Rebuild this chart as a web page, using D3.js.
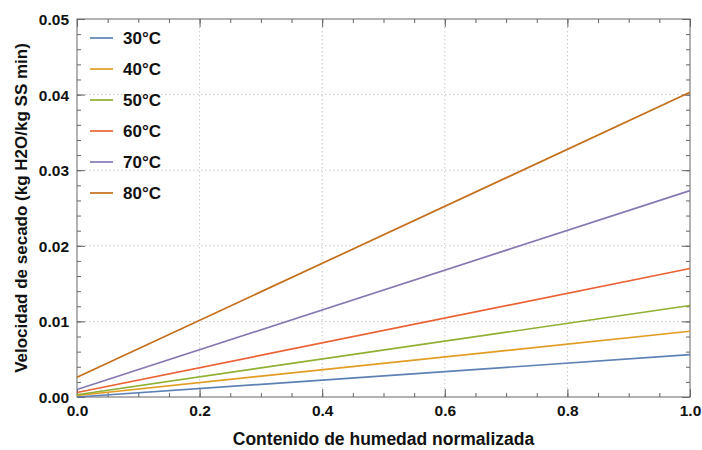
<!DOCTYPE html>
<html>
<head>
<meta charset="utf-8">
<script src="https://cdn.jsdelivr.net/npm/d3@7"></script>
<style>
  html, body { margin: 0; padding: 0; background: #fff; }
  svg { display: block; font-family: "Liberation Sans", Arial, sans-serif; }
</style>
</head>
<body>
<svg id="chart" width="702" height="450"></svg>
<script>
// Drying rate vs normalised moisture content, one straight line per temperature
const seriesNames = ["30°C", "40°C", "50°C", "60°C", "70°C", "80°C"];
const seriesColors = ["#5E81B5", "#E19C24", "#8FB032", "#EB6235", "#8778B3", "#C56E1A"];
const moisture = [0.0, 1.0];
const rate30 = [0.0000, 0.0056];
const rate40 = [0.0002, 0.0087];
const rate50 = [0.0003, 0.0121];
const rate60 = [0.0006, 0.0170];
const rate70 = [0.0010, 0.0273];
const rate80 = [0.0026, 0.0403];
const seriesValues = [rate30, rate40, rate50, rate60, rate70, rate80];
const xTicks = [0.0, 0.2, 0.4, 0.6, 0.8, 1.0];
const yTicks = [0.00, 0.01, 0.02, 0.03, 0.04, 0.05];
const xTitle = "Contenido de humedad normalizada";
const yTitle = "Velocidad de secado (kg H2O/kg SS min)";

const svg = d3.select("#chart");
const m = { left: 77, right: 690, top: 19, bottom: 397 };
const x = d3.scaleLinear().domain([0, 1]).range([m.left, m.right]);
const y = d3.scaleLinear().domain([0, 0.05]).range([m.bottom, m.top]);

const frameColor = "#666";

// grid
const grid = svg.append("g");
grid.selectAll(".gx").data(xTicks.slice(1, -1)).join("line")
  .attr("x1", d => x(d)).attr("x2", d => x(d))
  .attr("y1", m.top).attr("y2", m.bottom)
  .attr("stroke", "#c8c8c8").attr("stroke-width", 1).attr("stroke-dasharray", "1.5,2.5");
grid.selectAll(".gy").data(yTicks.slice(1, -1)).join("line")
  .attr("x1", m.left).attr("x2", m.right)
  .attr("y1", d => y(d)).attr("y2", d => y(d))
  .attr("stroke", "#c8c8c8").attr("stroke-width", 1).attr("stroke-dasharray", "1.5,2.5");

// minor ticks
const xMinor = d3.range(0, 1.0001, 0.05);
const yMinor = d3.range(0, 0.05001, 0.002);

function ticksAxis(axisGen, tr, major, minor, fmt, showLabels) {
  const g = svg.append("g").attr("transform", tr);
  g.call(axisGen.tickValues(minor).tickSize(-4).tickFormat(""));
  g.select(".domain").remove();
  g.selectAll("line").attr("stroke", frameColor);
  const g2 = svg.append("g").attr("transform", tr);
  g2.call(axisGen.tickValues(major).tickSize(-8).tickPadding(12).tickFormat(showLabels ? fmt : ""));
  g2.select(".domain").remove();
  g2.selectAll("line").attr("stroke", frameColor);
  g2.selectAll("text").attr("font-size", 15.5).attr("font-weight", "bold").attr("fill", "#111")
    .attr("font-family", "Liberation Sans, Arial, sans-serif");
  return g2;
}

const fx = d3.format(".1f"), fy = d3.format(".2f");
const bottomG = ticksAxis(d3.axisBottom(x), `translate(0,${m.bottom})`, xTicks, xMinor, fx, true);
bottomG.selectAll("text").attr("dy", "0.45em");
const leftG = ticksAxis(d3.axisLeft(y), `translate(${m.left},0)`, yTicks, yMinor, fy, true);
leftG.selectAll("text").attr("dx", "4").attr("dy", "0.35em");
ticksAxis(d3.axisTop(x), `translate(0,${m.top})`, xTicks, xMinor, fx, false);
ticksAxis(d3.axisRight(y), `translate(${m.right},0)`, yTicks, yMinor, fy, false);

// frame
svg.append("rect")
  .attr("x", m.left).attr("y", m.top)
  .attr("width", m.right - m.left).attr("height", m.bottom - m.top)
  .attr("fill", "none").attr("stroke", frameColor).attr("stroke-width", 1);

// series lines
const line = d3.line().x((d, i) => x(moisture[i])).y(d => y(d));
svg.append("g").selectAll("path").data(seriesValues).join("path")
  .attr("d", d => line(d))
  .attr("fill", "none")
  .attr("stroke", (d, i) => seriesColors[i])
  .attr("stroke-width", 1.7);

// legend
const lg = svg.append("g").attr("transform", "translate(90,38)");
const item = lg.selectAll("g").data(seriesNames).join("g")
  .attr("transform", (d, i) => `translate(0,${i * 31})`);
item.append("line").attr("x1", 0).attr("x2", 23).attr("y1", 0).attr("y2", 0)
  .attr("stroke", (d, i) => seriesColors[i]).attr("stroke-width", 1.7);
item.append("text").attr("x", 33).attr("y", 0).attr("dy", "0.36em")
  .attr("font-size", 17).attr("font-weight", "bold").attr("fill", "#111")
  .text(d => d);

// axis titles
svg.append("text")
  .attr("x", (m.left + m.right) / 2).attr("y", 445)
  .attr("text-anchor", "middle").attr("font-size", 17.5).attr("font-weight", "bold").attr("fill", "#111")
  .text(xTitle);
svg.append("text")
  .attr("transform", `translate(27,${(m.top + m.bottom) / 2}) rotate(-90)`)
  .attr("text-anchor", "middle").attr("font-size", 17).attr("font-weight", "bold").attr("fill", "#111")
  .text(yTitle);
</script>
</body>
</html>
